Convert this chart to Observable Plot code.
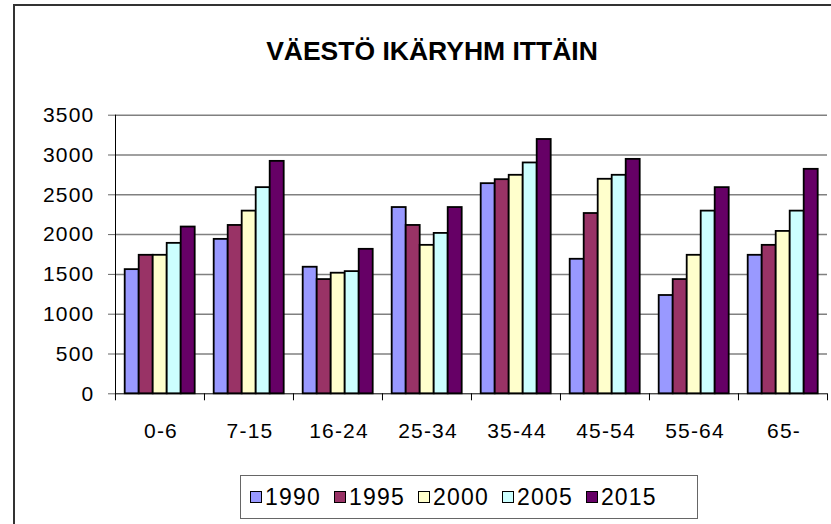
<!DOCTYPE html>
<html>
<head>
<meta charset="utf-8">
<script src="https://cdn.jsdelivr.net/npm/d3@7"></script>
<script src="https://cdn.jsdelivr.net/npm/@observablehq/plot@0.6"></script>
<style>
  html, body { margin: 0; padding: 0; background: #fff; }
  #wrap { position: relative; width: 831px; height: 524px; overflow: hidden; background: #fff;
          font-family: "Liberation Sans", Arial, sans-serif; color: #000; }
  #border { position: absolute; left: 13px; top: 4px; width: 900px; height: 600px;
            border-top: 2px solid #333; border-left: 2px solid #333; }
  #title { position: absolute; left: 432px; top: 37.6px; transform: translateX(-50%);
           font-size: 26.5px; font-weight: bold; line-height: 1; white-space: nowrap; }
  #chart { position: absolute; left: 0; top: 94px; }
  #legend { position: absolute; left: 240px; top: 475px; width: 458px; height: 44px; box-sizing: border-box;
            border: 1px solid #666; display: flex; align-items: center; padding-left: 9px; gap: 0; }
  .item { display: flex; align-items: center; margin-right: 13px; }
  .sw { width: 10px; height: 10px; border: 1px solid #000; margin-right: 3px; }
  .lbl { font-size: 23px; line-height: 1; letter-spacing: 1.2px; }
</style>
</head>
<body>
<div id="wrap">
  <div id="border"></div>
  <div id="title"></div>
  <div id="chart"></div>
  <div id="legend"></div>
</div>
<script>
const titleText = "VÄESTÖ IKÄRYHM ITTÄIN";
const categories = ["0-6", "7-15", "16-24", "25-34", "35-44", "45-54", "55-64", "65-"];
const years = ["1990", "1995", "2000", "2005", "2015"];
const v1990 = [1560, 1940, 1590, 2340, 2640, 1690, 1235, 1740];
const v1995 = [1740, 2115, 1435, 2115, 2690, 2265, 1435, 1865];
const v2000 = [1740, 2295, 1515, 1865, 2745, 2695, 1740, 2040];
const v2005 = [1890, 2590, 1535, 2015, 2900, 2745, 2295, 2295];
const v2015 = [2095, 2920, 1815, 2340, 3195, 2945, 2590, 2820];
const colors = ["#9999FF", "#993366", "#FFFFCC", "#CCFFFF", "#660066"];
const yTicks = [0, 500, 1000, 1500, 2000, 2500, 3000, 3500];

const series = [v1990, v1995, v2000, v2005, v2015];
const data = [];
categories.forEach((c, i) => years.forEach((y, j) => data.push({group: c, year: y, value: series[j][i]})));

document.getElementById("title").textContent = titleText;

const W = 831, H = 356;
const mL = 114.3, mR = 4.3, mT = 20.7, mB = 56.7;
const step = (W - mL - mR) / categories.length;

const chart = Plot.plot({
  width: W, height: H,
  marginLeft: mL, marginRight: mR, marginTop: mT, marginBottom: mB,
  style: {fontFamily: "'Liberation Sans', Arial, sans-serif", fontSize: "21px", color: "#000", background: "transparent", letterSpacing: "1.2px"},
  fx: {domain: categories, padding: 0, label: null},
  x: {domain: years, paddingInner: 0, paddingOuter: 0.65, axis: null},
  y: {domain: [0, 3500], label: null},
  color: {domain: years, range: colors},
  marks: [
    Plot.ruleY(yTicks.slice(1), {stroke: "#808080", strokeWidth: 1.5}),
    Plot.barY(data, {fx: "group", x: "year", y: "value", fill: "year", stroke: "#000", strokeWidth: 1.8}),
    Plot.ruleY([0], {stroke: "#000", strokeWidth: 1}),
    Plot.frame({anchor: "left", facetAnchor: "left", stroke: "#000", strokeWidth: 1}),
    Plot.axisY({ticks: yTicks, tickFormat: d => String(d), tickSize: 7, tickPadding: 14, label: null, stroke: "#666", fill: "#000", fontSize: 21}),
    Plot.axisFx({anchor: "bottom", tickSize: 7, tickFormat: () => "", dx: -step / 2, label: null, stroke: "#000"}),
    Plot.axisFx({anchor: "bottom", ticks: [categories[categories.length - 1]], tickSize: 7, tickFormat: () => "", dx: step / 2, label: null, stroke: "#000"}),
    Plot.axisFx({anchor: "bottom", tickSize: 0, tickPadding: 29, label: null, fill: "#000", fontSize: 21, dx: 1})
  ]
});
document.getElementById("chart").appendChild(chart);

const legend = document.getElementById("legend");
years.forEach((y, i) => {
  const item = document.createElement("div");
  item.className = "item";
  const sw = document.createElement("div");
  sw.className = "sw";
  sw.style.background = colors[i];
  const lb = document.createElement("span");
  lb.className = "lbl";
  lb.textContent = y;
  item.appendChild(sw); item.appendChild(lb);
  legend.appendChild(item);
});
</script>
</body>
</html>
